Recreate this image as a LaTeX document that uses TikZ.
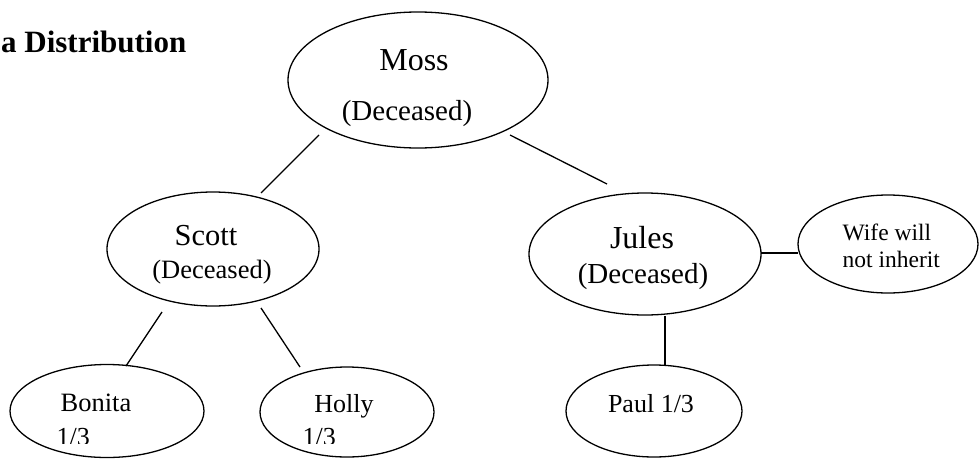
\documentclass[tikz,border=0pt]{standalone}
\usepackage{fontspec}
\setmainfont{Liberation Serif}
\usetikzlibrary{shapes.geometric}
\begin{document}
\begin{tikzpicture}[x=1pt,y=-1pt,line width=1.3pt,
  oval/.style={draw, ellipse, inner sep=0pt},
  lbl/.style={anchor=base, inner sep=0pt},
  lblw/.style={anchor=base west, inner sep=0pt},
  link/.style={draw, line width=1.3pt}]
\useasboundingbox (0,0) rectangle (979,458);
\clip (0,0) rectangle (979,458);

% title
\node[lblw, font=\bfseries\fontsize{31}{36}\selectfont] (title) at (0.5,52) {a Distribution};

% ellipses
\node[oval, minimum width=260pt, minimum height=136pt] (moss) at (418,80) {};
\node[oval, minimum width=212pt, minimum height=114pt] (scott) at (213,249) {};
\node[oval, minimum width=232pt, minimum height=122pt] (jules) at (645,254) {};
\node[oval, minimum width=180pt, minimum height=98pt] (wife) at (888,244) {};
\node[oval, minimum width=194pt, minimum height=93pt] (bonita) at (107,411) {};
\node[oval, minimum width=174pt, minimum height=90pt] (holly) at (347,412) {};
\node[oval, minimum width=176pt, minimum height=92pt] (paul) at (654,411) {};

% texts
\node[lbl, font=\fontsize{32}{38}\selectfont] (mossname) at (414,70) {Moss};
\node[lbl, font=\fontsize{29}{34}\selectfont] (mossdec) at (407,120) {(Deceased)};
\node[lbl, font=\fontsize{30.5}{36}\selectfont] (scottname) at (206,245) {Scott};
\node[lbl, font=\fontsize{26.5}{32}\selectfont] (scottdec) at (212,278) {(Deceased)};
\node[lbl, font=\fontsize{32}{38}\selectfont] (julesname) at (642,248) {Jules};
\node[lbl, font=\fontsize{29}{34}\selectfont] (julesdec) at (643,283) {(Deceased)};
\node[lblw, font=\fontsize{23.5}{28}\selectfont] (wife1) at (842,240) {Wife will};
\node[lblw, font=\fontsize{23.5}{28}\selectfont] (wife2) at (842,267) {not inherit};
\node[lbl, font=\fontsize{26}{31}\selectfont] (paulname) at (651,412) {Paul 1/3};
\node[lbl, font=\fontsize{26.5}{31}\selectfont] (bonitaname) at (96,411) {Bonita};
\node[lbl, font=\fontsize{26}{31}\selectfont] (hollyname) at (344,412) {Holly};
\begin{scope}
\clip (0,0) rectangle (979,443);
\node[lblw, font=\fontsize{26}{31}\selectfont] (bonitashare) at (56,445) {1/3};
\node[lblw, font=\fontsize{26}{31}\selectfont] (hollyshare) at (302,445) {1/3};
\end{scope}

% connector end points
\coordinate (ms1) at (319,135);
\coordinate (ms2) at (261,193);
\coordinate (mj1) at (510,135);
\coordinate (mj2) at (607,184);
\coordinate (sb1) at (162,312);
\coordinate (sb2) at (126,366);
\coordinate (sh1) at (261,308);
\coordinate (sh2) at (300,367);
\coordinate (jp1) at (665,316);
\coordinate (jp2) at (665,366);
\coordinate (jw1) at (761,253);
\coordinate (jw2) at (798,253);

\draw[link] (ms1) -- (ms2);
\draw[link] (mj1) -- (mj2);
\draw[link] (sb1) -- (sb2);
\draw[link] (sh1) -- (sh2);
\draw[link] (jp1) -- (jp2);
\draw[link] (jw1) -- (jw2);
\end{tikzpicture}
\end{document}
